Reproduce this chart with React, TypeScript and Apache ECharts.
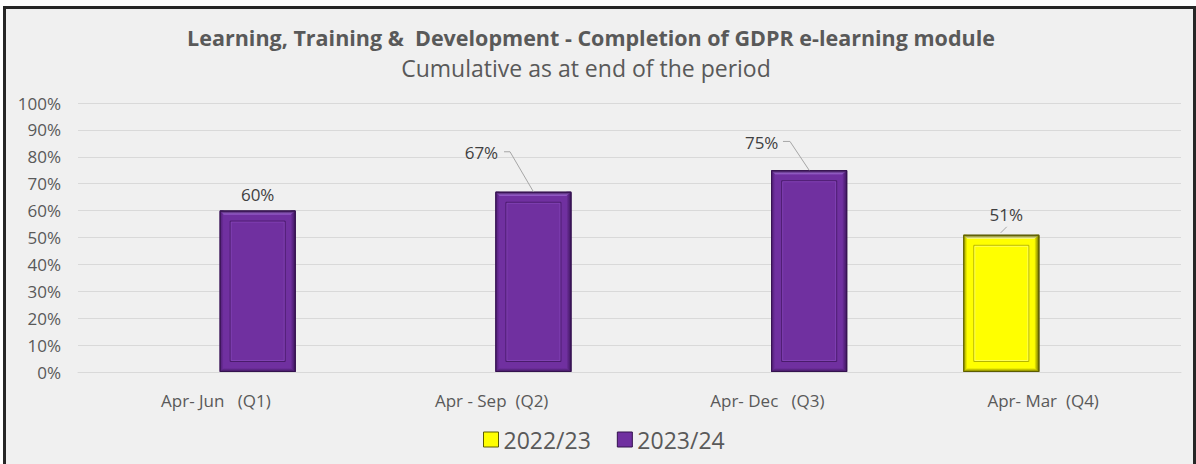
import React, { useEffect, useRef } from "react";
import * as echarts from "echarts";

// ---- data ----
const titleText = "Learning, Training &  Development - Completion of GDPR e-learning module";
const subtitleText = "Cumulative as at end of the period";
const categories = ["Apr- Jun   (Q1)", "Apr - Sep  (Q2)", "Apr- Dec   (Q3)", "Apr- Mar  (Q4)"];
const seriesNames = ["2022/23", "2023/24"];
const values2022: (number | null)[] = [null, null, null, 51];
const values2023: (number | null)[] = [60, 67, 75, null];
const yMin = 0;
const yMax = 100;
const yStep = 10;

// ---- layout / style (not data) ----
const FONT = "'Open Sans', 'Noto Sans', sans-serif";
const BAR_W = 76;
const BAR_GAP = 0.1;
const OFFSET = (BAR_W * (1 + BAR_GAP)) / 2;
const INSET = 10;
// label shifts [dx, dy] per series / category
const labelShift: [number, number][][] = [
  [[0, 0], [0, 0], [0, 0], [5, -3.5]],
  [[0, 0], [-52, -23], [-47.5, -11.5], [0, 0]],
];
// leader line points relative to bar top-centre
const leaderPts: (number[][] | null)[][] = [
  [null, null, null, [[-0.6, -2], [5.4, -8]]],
  [null, [[0, 0], [-23.4, -40], [-29.4, -40]], [[0, 0], [-19.2, -28.8], [-26.2, -28.8]], null],
];
const palettes = [
  {
    face: "#ffff00",
    edge: "#5c5c00",
    top: "#ffffb0",
    left: "#8c8c00",
    right: "#5f5f00",
    bottom: "#666600",
    inner: "#b4b400",
    innerHi: "#ffff90",
  },
  {
    face: "#7030a0",
    edge: "#34124e",
    top: "#a26ad8",
    left: "#4c1c70",
    right: "#3a1458",
    bottom: "#3c1558",
    inner: "#4a1b6c",
    innerHi: "#8c4cc0",
  },
];

function grad(x0: number, y0: number, x1: number, y1: number, c0: string, c1: string) {
  return new echarts.graphic.LinearGradient(x0, y0, x1, y1, [
    { offset: 0, color: c0 },
    { offset: 1, color: c1 },
  ]);
}

export default function App() {
  const ref = useRef<HTMLDivElement>(null);

  useEffect(() => {
    if (!ref.current) return;
    const chart = echarts.init(ref.current, undefined, { renderer: "svg" });
    const allValues = [values2022, values2023];

    const overlayData: number[][] = [];
    allValues.forEach((arr, s) =>
      arr.forEach((v, i) => {
        if (v !== null) overlayData.push([i, v, s]);
      })
    );

    const barSeries = allValues.map((arr, s) => ({
      name: seriesNames[s],
      type: "bar",
      data: arr.map((v) => (v === null ? "-" : v)),
      barWidth: BAR_W,
      barGap: `${BAR_GAP * 100}%`,
      z: 2,
      itemStyle: {
        color: palettes[s].face,
        borderColor: palettes[s].edge,
        borderWidth: 1,
      },
      label: {
        show: true,
        position: "top",
        distance: 8,
        formatter: "{c}%",
        fontFamily: FONT,
        fontSize: 17,
        color: "#404040",
      },
      labelLayout: (p: any) => {
        const sh = labelShift[s][p.dataIndex] || [0, 0];
        return { dx: sh[0], dy: sh[1] };
      },
    }));

    const overlay = {
      type: "custom",
      silent: true,
      z: 3,
      clip: false,
      encode: { x: 0, y: 1 },
      data: overlayData,
      renderItem: (params: any, api: any) => {
        const cat = api.value(0);
        const val = api.value(1);
        const s = api.value(2);
        const topPt = api.coord([cat, val]);
        const basePt = api.coord([cat, 0]);
        const cx = topPt[0] + (s === 0 ? -OFFSET : OFFSET);
        const x = cx - BAR_W / 2;
        const y = topPt[1];
        const w = BAR_W;
        const h = basePt[1] - topPt[1];
        const b = INSET;
        const pal = palettes[s];
        const children: any[] = [
          // left dark edge
          {
            type: "rect",
            shape: { x: x, y: y, width: 4, height: h },
            style: { fill: grad(0, 0, 1, 0, pal.left, pal.face) },
          },
          // right dark edge
          {
            type: "rect",
            shape: { x: x + w - 5, y: y, width: 5, height: h },
            style: { fill: grad(0, 0, 1, 0, pal.face, pal.right) },
          },
          // bottom dark edge
          {
            type: "polygon",
            shape: { points: [[x, y + h], [x + 4, y + h - 4], [x + w - 5, y + h - 4], [x + w, y + h]] },
            style: { fill: grad(0, 0, 0, 1, pal.face, pal.bottom) },
          },
          // top highlight
          {
            type: "polygon",
            shape: { points: [[x, y], [x + w, y], [x + w - 5, y + 4], [x + 4, y + 4]] },
            style: { fill: grad(0, 0, 0, 1, pal.edge, pal.top) },
          },
          // inner line + highlight
          {
            type: "rect",
            shape: { x: x + b + 0.5, y: y + b + 0.5, width: w - 2 * b - 1, height: h - 2 * b - 1 },
            style: { fill: "none", stroke: pal.inner, lineWidth: 1 },
          },
          {
            type: "rect",
            shape: { x: x + b + 1.5, y: y + b + 1.5, width: w - 2 * b - 3, height: h - 2 * b - 3 },
            style: { fill: "none", stroke: pal.innerHi, lineWidth: 1, opacity: 0.6 },
          },
          // outline
          {
            type: "rect",
            shape: { x: x + 0.5, y: y + 0.5, width: w - 1, height: h - 1 },
            style: { fill: "none", stroke: pal.edge, lineWidth: 1 },
          },
        ];
        const lp = leaderPts[s][cat];
        if (lp) {
          children.push({
            type: "polyline",
            shape: { points: lp.map((p) => [cx + p[0], y + p[1]]) },
            style: { fill: "none", stroke: "#a6a6a6", lineWidth: 1 },
          });
        }
        return { type: "group", children };
      },
    };

    chart.setOption({
      animation: false,
      backgroundColor: "#ffffff",
      graphic: [
        {
          type: "rect",
          z: -10,
          shape: { x: 4.5, y: 7.5, width: 1190, height: 470 },
          style: { fill: "#f0f0f0", stroke: "#262626", lineWidth: 3 },
        },
        {
          type: "text",
          x: 591,
          y: 37,
          style: {
            text: titleText,
            font: `bold 21.5px ${FONT}`,
            fill: "#595959",
            textAlign: "center",
            textVerticalAlign: "middle",
          },
        },
        {
          type: "text",
          x: 586,
          y: 68,
          style: {
            text: subtitleText,
            font: `23px ${FONT}`,
            fill: "#595959",
            textAlign: "center",
            textVerticalAlign: "middle",
          },
        },
      ],
      legend: {
        data: seriesNames.map((n, s) => ({
          name: n,
          itemStyle: { color: palettes[s].face, borderColor: palettes[s].edge, borderWidth: 1 },
        })),
        left: 483,
        top: 428,
        padding: 0,
        icon: "rect",
        itemWidth: 15,
        itemHeight: 15,
        itemGap: 26,
        textStyle: { fontFamily: FONT, fontSize: 23, color: "#595959" },
      },
      grid: { left: 78, right: 15, top: 103, bottom: 92, containLabel: false },
      xAxis: {
        type: "category",
        data: categories,
        axisTick: { show: false },
        axisLine: { lineStyle: { color: "#d9d9d9", width: 1 } },
        axisLabel: { fontFamily: FONT, fontSize: 17, color: "#595959", margin: 20 },
      },
      yAxis: {
        type: "value",
        min: yMin,
        max: yMax,
        interval: yStep,
        axisLine: { show: false },
        axisTick: { show: false },
        splitLine: { lineStyle: { color: "#d9d9d9", width: 1 } },
        axisLabel: {
          fontFamily: FONT,
          fontSize: 17,
          color: "#595959",
          margin: 17,
          formatter: (v: number) => `${v}%`,
        },
      },
      series: [...barSeries, overlay],
    });

    return () => chart.dispose();
  }, []);

  return (
    <div
      ref={ref}
      style={{ position: "absolute", left: 0, top: 0, width: 1196, height: 464 }}
    />
  );
}
